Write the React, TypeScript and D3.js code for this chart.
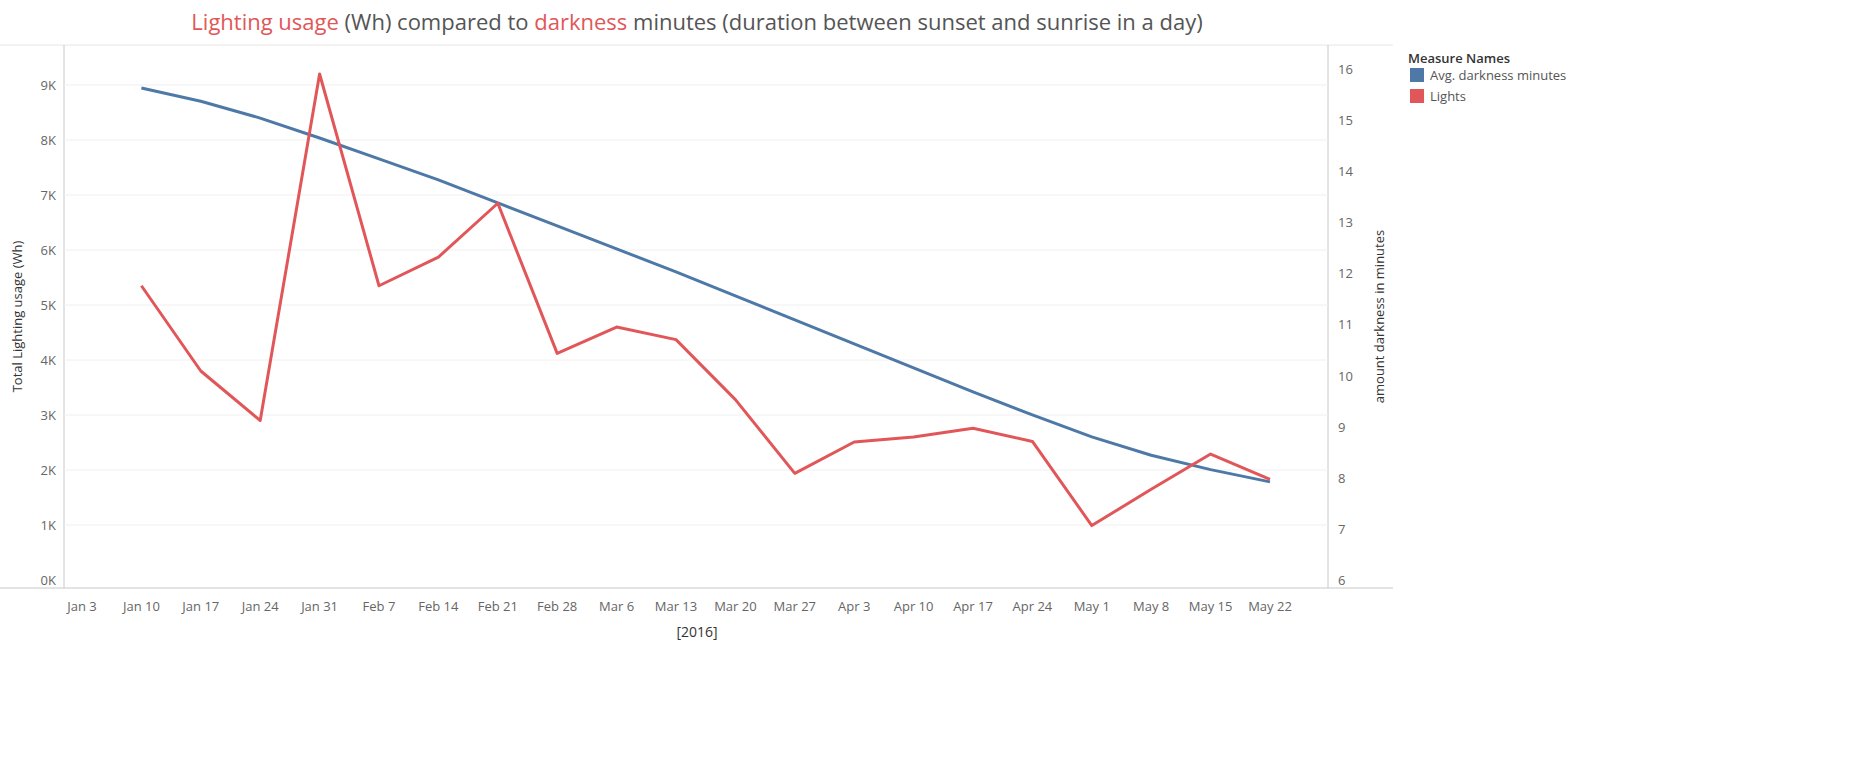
import React, { useEffect, useRef } from 'react';
import * as d3 from 'd3';

const weeks = ['2016-01-10','2016-01-17','2016-01-24','2016-01-31','2016-02-07','2016-02-14','2016-02-21','2016-02-28','2016-03-06','2016-03-13','2016-03-20','2016-03-27','2016-04-03','2016-04-10','2016-04-17','2016-04-24','2016-05-01','2016-05-08','2016-05-15','2016-05-22'];
const lights = [5350, 3800, 2900, 9200, 5350, 5870, 6850, 4120, 4600, 4370, 3280, 1940, 2510, 2600, 2760, 2520, 990, 1650, 2290, 1830];
const darkness = [15.63, 15.37, 15.04, 14.65, 14.24, 13.83, 13.38, 12.93, 12.48, 12.03, 11.56, 11.09, 10.62, 10.15, 9.68, 9.23, 8.8, 8.44, 8.16, 7.92];
const leftTicks = [0, 1000, 2000, 3000, 4000, 5000, 6000, 7000, 8000, 9000];
const rightTicks = [6, 7, 8, 9, 10, 11, 12, 13, 14, 15, 16];
const xTickLabels = ['Jan 3','Jan 10','Jan 17','Jan 24','Jan 31','Feb 7','Feb 14','Feb 21','Feb 28','Mar 6','Mar 13','Mar 20','Mar 27','Apr 3','Apr 10','Apr 17','Apr 24','May 1','May 8','May 15','May 22'];

const BLUE = '#4e79a7';
const RED = '#e15759';
const FONT = '"Open Sans", Lato, sans-serif';

const App: React.FC = () => {
  const svgRef = useRef<SVGSVGElement>(null);

  useEffect(() => {
    if (!svgRef.current) return;
    const svg = d3.select(svgRef.current);
    svg.selectAll('*').remove();

    const left = 64, right = 1328, top = 45, bottom = 588;
    const parse = d3.timeParse('%Y-%m-%d');
    const dates = weeks.map(w => parse(w)!);
    const x = d3.scaleTime()
      .domain([parse('2016-01-03')!, parse('2016-05-22')!])
      .range([82, 1270]);
    const yL = d3.scaleLinear().domain([-145, 9727]).range([bottom, top]);
    const yR = d3.scaleLinear().domain([5.843, 16.47]).range([bottom, top]);

    // frame
    svg.append('line').attr('x1', 0).attr('x2', 1393).attr('y1', top).attr('y2', top).attr('stroke', '#e6e6e6');
    svg.append('line').attr('x1', 0).attr('x2', 1393).attr('y1', bottom).attr('y2', bottom).attr('stroke', '#c8c8c8');
    svg.append('line').attr('x1', left).attr('x2', left).attr('y1', top).attr('y2', bottom).attr('stroke', '#c8c8c8');
    svg.append('line').attr('x1', right).attr('x2', right).attr('y1', top).attr('y2', bottom).attr('stroke', '#c8c8c8');

    // gridlines
    svg.append('g').selectAll('line').data(leftTicks.slice(1)).enter().append('line')
      .attr('x1', left).attr('x2', right)
      .attr('y1', d => yL(d)).attr('y2', d => yL(d))
      .attr('stroke', '#f0f0f0');

    // left ticks
    svg.append('g').selectAll('text').data(leftTicks).enter().append('text')
      .attr('x', 56).attr('y', d => yL(d) + 5)
      .attr('text-anchor', 'end').attr('font-size', 13).attr('fill', '#666').attr('font-family', FONT)
      .text(d => `${d / 1000}K`);
    svg.append('text')
      .attr('transform', `translate(22,${(top + bottom) / 2}) rotate(-90)`)
      .attr('text-anchor', 'middle').attr('font-size', 13).attr('fill', '#333').attr('font-family', FONT)
      .text('Total Lighting usage (Wh)');

    // right ticks
    svg.append('g').selectAll('text').data(rightTicks).enter().append('text')
      .attr('x', 1338).attr('y', d => yR(d) + 5)
      .attr('font-size', 13).attr('fill', '#666').attr('font-family', FONT)
      .text(d => d);
    svg.append('text')
      .attr('transform', `translate(1384,${(top + bottom) / 2}) rotate(-90)`)
      .attr('text-anchor', 'middle').attr('font-size', 13).attr('fill', '#333').attr('font-family', FONT)
      .text('amount darkness in minutes');

    // x ticks
    const tickDates = xTickLabels.map((_, i) => d3.timeWeek.offset(parse('2016-01-03')!, i));
    svg.append('g').selectAll('text').data(tickDates).enter().append('text')
      .attr('x', d => x(d)).attr('y', 611)
      .attr('text-anchor', 'middle').attr('font-size', 13).attr('fill', '#666').attr('font-family', FONT)
      .text((_, i) => xTickLabels[i]);
    svg.append('text').attr('x', 697).attr('y', 637)
      .attr('text-anchor', 'middle').attr('font-size', 14).attr('fill', '#333').attr('font-family', FONT)
      .text('[2016]');

    // lines
    const lineL = d3.line<number>().x((_, i) => x(dates[i])).y(d => yL(d));
    const lineR = d3.line<number>().x((_, i) => x(dates[i])).y(d => yR(d));
    svg.append('path').datum(darkness).attr('d', lineR).attr('fill', 'none').attr('stroke', BLUE).attr('stroke-width', 3).attr('stroke-linejoin', 'round');
    svg.append('path').datum(lights).attr('d', lineL).attr('fill', 'none').attr('stroke', RED).attr('stroke-width', 3).attr('stroke-linejoin', 'round');

    // title
    const title = svg.append('text').attr('x', 697).attr('y', 30)
      .attr('text-anchor', 'middle').attr('font-size', 22).attr('fill', '#555').attr('font-family', FONT);
    title.append('tspan').attr('fill', RED).text('Lighting usage');
    title.append('tspan').text(' (Wh) compared to ');
    title.append('tspan').attr('fill', RED).text('darkness');
    title.append('tspan').text(' minutes (duration between sunset and sunrise in a day)');

    // legend
    const lg = svg.append('g').attr('transform', 'translate(1408,0)');
    lg.append('text').attr('x', 0).attr('y', 63).attr('font-size', 13).attr('fill', '#333').attr('font-weight', 600).attr('font-family', FONT).text('Measure Names');
    const items = [{ name: 'Avg. darkness minutes', color: BLUE }, { name: 'Lights', color: RED }];
    items.forEach((it, i) => {
      lg.append('rect').attr('x', 2).attr('y', 68 + i * 21).attr('width', 14).attr('height', 14).attr('fill', it.color);
      lg.append('text').attr('x', 22).attr('y', 80 + i * 21).attr('font-size', 13).attr('fill', '#555').attr('font-family', FONT).text(it.name);
    });
  }, []);

  return <svg ref={svgRef} width={1871} height={775} style={{ position: 'absolute', left: 0, top: 0, background: '#fff' }} />;
};

export default App;
